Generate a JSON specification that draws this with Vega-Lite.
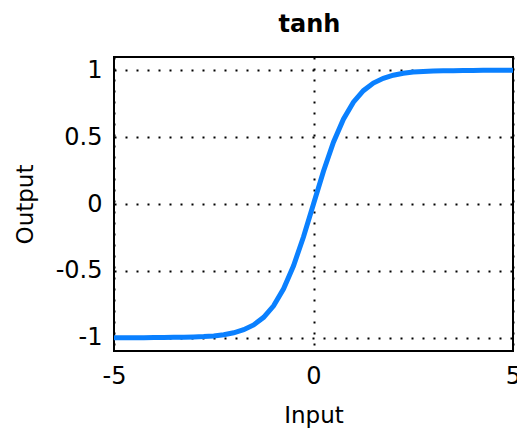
{
  "$schema": "https://vega.github.io/schema/vega-lite/v6.json",
  "width": 399,
  "height": 294,
  "autosize": {"type": "none"},
  "padding": {"left": 114, "top": 57, "right": 4, "bottom": 80},
  "background": "white",
  "title": {
    "text": "tanh",
    "font": "DejaVu Sans",
    "fontSize": 24,
    "fontWeight": "bold",
    "color": "#000",
    "anchor": "middle",
    "dx": -4,
    "offset": -4,
    "baseline": "bottom"
  },
  "config": {
    "view": {"stroke": "#000", "strokeWidth": 2},
    "axis": {
      "domain": false,
      "ticks": false,
      "grid": true,
      "gridColor": "#000",
      "gridOpacity": 1,
      "gridWidth": 2,
      "gridDash": [2, 9],
      "labelFont": "DejaVu Sans",
      "labelFontSize": 24,
      "labelColor": "#000",
      "titleFont": "DejaVu Sans",
      "titleFontSize": 23,
      "titleFontWeight": "normal",
      "titleColor": "#000"
    }
  },
  "data": {
    "values": [
      {"x": -5, "y": -1.0}, {"x": -4.75, "y": -1.0}, {"x": -4.5, "y": -1.0}, {"x": -4.25, "y": -1.0},
      {"x": -4, "y": -0.999}, {"x": -3.75, "y": -0.999}, {"x": -3.5, "y": -0.998}, {"x": -3.25, "y": -0.997},
      {"x": -3, "y": -0.995}, {"x": -2.75, "y": -0.992}, {"x": -2.5, "y": -0.987}, {"x": -2.25, "y": -0.978},
      {"x": -2, "y": -0.964}, {"x": -1.75, "y": -0.941}, {"x": -1.5, "y": -0.905}, {"x": -1.25, "y": -0.848},
      {"x": -1, "y": -0.762}, {"x": -0.75, "y": -0.635}, {"x": -0.5, "y": -0.462}, {"x": -0.25, "y": -0.245},
      {"x": 0, "y": 0},
      {"x": 0.25, "y": 0.245}, {"x": 0.5, "y": 0.462}, {"x": 0.75, "y": 0.635}, {"x": 1, "y": 0.762},
      {"x": 1.25, "y": 0.848}, {"x": 1.5, "y": 0.905}, {"x": 1.75, "y": 0.941}, {"x": 2, "y": 0.964},
      {"x": 2.25, "y": 0.978}, {"x": 2.5, "y": 0.987}, {"x": 2.75, "y": 0.992}, {"x": 3, "y": 0.995},
      {"x": 3.25, "y": 0.997}, {"x": 3.5, "y": 0.998}, {"x": 3.75, "y": 0.999}, {"x": 4, "y": 0.999},
      {"x": 4.25, "y": 1.0}, {"x": 4.5, "y": 1.0}, {"x": 4.75, "y": 1.0}, {"x": 5, "y": 1.0}
    ]
  },
  "mark": {"type": "line", "color": "#0a80ff", "strokeWidth": 5, "clip": true},
  "encoding": {
    "x": {
      "field": "x",
      "type": "quantitative",
      "scale": {"domain": [-5, 5], "nice": false, "zero": false},
      "axis": {"values": [-5, 0, 5], "labelExpr": "'' + datum.value", "title": "Input", "labelPadding": 13, "titlePadding": 16, "labelFlush": false}
    },
    "y": {
      "field": "y",
      "type": "quantitative",
      "scale": {"domain": [-1.1, 1.1], "nice": false, "zero": false},
      "axis": {"values": [-1, -0.5, 0, 0.5, 1], "labelExpr": "'' + datum.value", "title": "Output", "labelPadding": 12, "titleX": -89, "titleY": 147, "titleAngle": -90, "titleAlign": "center", "titleBaseline": "middle"}
    }
  }
}
